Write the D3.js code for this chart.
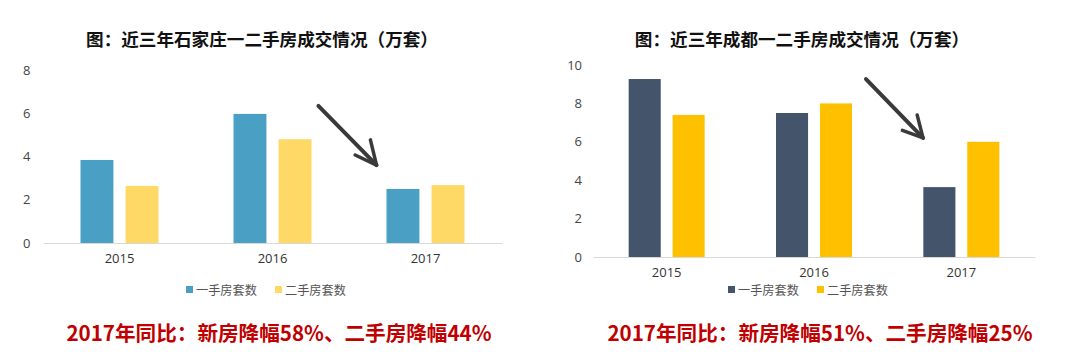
<!DOCTYPE html>
<html><head><meta charset="utf-8">
<script src="https://cdn.jsdelivr.net/npm/d3@7"></script>
<style>
body{margin:0;background:#fff;}
svg{display:block;}
</style></head>
<body>
<svg id="c" width="1080" height="362"></svg>
<script>
const years = ["2015","2016","2017"];
const seriesNames = ["一手房套数","二手房套数"];
// 石家庄 (万套)
const sjzNew = [3.84, 5.97, 2.50];
const sjzSecond = [2.64, 4.80, 2.68];
const sjzTicks = [0,2,4,6,8];
// 成都 (万套)
const cdNew = [9.27, 7.50, 3.64];
const cdSecond = [7.40, 8.00, 6.00];
const cdTicks = [0,2,4,6,8,10];
const titles = ["图：近三年石家庄一二手房成交情况（万套）","图：近三年成都一二手房成交情况（万套）"];
const notes = ["2017年同比：新房降幅58%、二手房降幅44%","2017年同比：新房降幅51%、二手房降幅25%"];

const svg = d3.select("#c");
const cjk = "'Noto Sans CJK SC','Noto Sans',sans-serif";
const num = "'Open Sans','Noto Sans',sans-serif";

function drawChart(cfg){
  const g = svg.append("g");
  const x = d3.scaleBand().domain(years).range([cfg.x0,cfg.x1]);
  const y = d3.scaleLinear().domain([0,cfg.max]).range([cfg.y0,cfg.y1]);
  const inner = d3.scaleBand().domain([0,1]).range([0,cfg.groupW]).paddingInner(cfg.innerPad);

  // title
  g.append("text").attr("x",cfg.titleX).attr("y",46).attr("text-anchor","middle")
    .attr("font-family",cjk).attr("font-weight","bold").attr("font-size",17.6).attr("fill","#111")
    .text(cfg.title);

  // y tick labels
  const ya = d3.axisLeft(y).tickValues(cfg.ticks).tickSize(0).tickPadding(0);
  const yg = g.append("g").attr("transform",`translate(${cfg.tickX},0)`).call(ya);
  yg.select(".domain").remove();
  yg.selectAll("text").attr("font-family",num).attr("font-size",13).attr("fill","#444")
    .attr("text-anchor",cfg.tickAnchor);

  // bars
  const vals = [cfg.a, cfg.b];
  vals.forEach((arr,si)=>{
    g.selectAll(null).data(arr).enter().append("rect")
      .attr("x",(d,i)=>x(years[i]) + (x.bandwidth()-cfg.groupW)/2 + inner(si))
      .attr("width",inner.bandwidth())
      .attr("y",d=>y(d)).attr("height",d=>cfg.y0-y(d))
      .attr("fill",cfg.colors[si]);
  });

  // baseline
  const xa = d3.axisBottom(x).tickSize(0).tickPadding(11);
  const xg = g.append("g").attr("transform",`translate(0,${cfg.y0})`).call(xa);
  xg.select(".domain").attr("stroke","#d9d9d9").attr("stroke-width",1.2);
  xg.selectAll("text").attr("font-family",num).attr("font-size",13).attr("fill","#333");

  // legend
  const lg = g.append("g");
  seriesNames.forEach((n,i)=>{
    const lx = cfg.legX + i*cfg.legGap;
    lg.append("rect").attr("x",lx).attr("y",cfg.legY-4).attr("width",7).attr("height",7).attr("fill",cfg.colors[i]);
    lg.append("text").attr("x",lx+10).attr("y",cfg.legY+4.5).attr("font-family",cjk).attr("font-size",12.2)
      .attr("fill","#555").text(n);
  });

  // hand-drawn arrow, positioned in data space
  const a = cfg.arrow;
  const sx = v => x(years[1]) + x.bandwidth()*v; // fractions of band from 2016 start
  const tip = [sx(a.tip[0]), y(a.tip[1])];
  const tail = [sx(a.tail[0]), y(a.tail[1])];
  const h1 = [sx(a.h1[0]), y(a.h1[1])];
  const h2 = [sx(a.h2[0]), y(a.h2[1])];
  const ag = g.append("g").attr("stroke","#3a3a3a").attr("fill","none").attr("stroke-linecap","round");
  ag.append("path").attr("d",d3.line()([tail,tip])).attr("stroke-width",4);
  ag.append("path").attr("d",d3.line()([h1,tip,h2])).attr("stroke-width",3.5).attr("stroke-linejoin","round");

  // note
  g.append("text").attr("x",cfg.noteX).attr("y",341).attr("text-anchor","middle")
    .attr("font-family",cjk).attr("font-weight","bold").attr("font-size",20.6).attr("fill","#c00000")
    .text(cfg.note);
}

drawChart({
  x0:43, x1:502, y0:243, y1:70, max:8, ticks:sjzTicks, groupW:78, innerPad:0.27,
  a:sjzNew, b:sjzSecond, colors:["#4a9fc4","#ffd966"],
  title:titles[0], titleX:262, tickX:23, tickAnchor:"start",
  legX:186, legY:290, legGap:89, noteX:279, note:notes[0],
  arrow:{tail:[0.80,6.34], tip:[1.18,3.6], h1:[1.14,4.77], h2:[1.04,4.07]}
});
drawChart({
  x0:593, x1:1035, y0:257, y1:65, max:10, ticks:cdTicks, groupW:76, innerPad:0.27,
  a:cdNew, b:cdSecond, colors:["#44546a","#ffc000"],
  title:titles[1], titleX:802, tickX:582, tickAnchor:"end",
  legX:728, legY:290, legGap:89, noteX:820, note:notes[1],
  arrow:{tail:[0.853,9.27], tip:[1.24,6.2], h1:[1.20,7.4], h2:[1.10,6.6]}
});
</script>
</body></html>
